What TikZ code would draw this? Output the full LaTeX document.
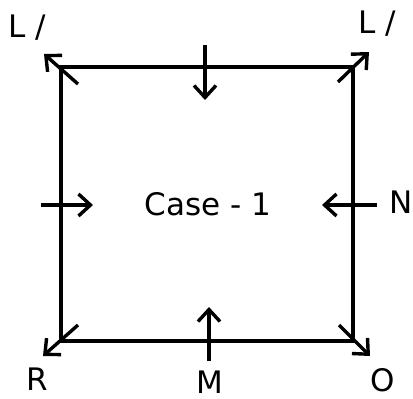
\documentclass[tikz,border=0pt]{standalone}
\usepackage{fontspec}
\setmainfont{DejaVu Sans}
\usetikzlibrary{arrows.meta}
\begin{document}
\begin{tikzpicture}[x=1pt,y=-1pt,
  edge/.style={line width=3.6pt, line cap=rect},
  arr/.style={line width=3.4pt,-{Straight Barb[length=12pt,width=22pt]}},
  lbl/.style={font=\fontsize{31}{31}\selectfont, text=black, inner sep=0pt, anchor=base}]
\useasboundingbox (0,0) rectangle (413,399);
% corners
\coordinate (tl) at (61,67);
\coordinate (tr) at (353,67);
\coordinate (bl) at (61,341);
\coordinate (br) at (353,341);
\draw[edge] (tl) -- (tr) -- (br) -- (bl) -- cycle;
% diagonal corner arrows
\coordinate (tls) at (78,84);  \coordinate (tle) at (44,54);
\coordinate (trs) at (338,82); \coordinate (tre) at (369,52);
\coordinate (bls) at (78,325); \coordinate (ble) at (43,356);
\coordinate (brs) at (339,325); \coordinate (bre) at (370,356);
\draw[arr] (tls) -- (tle);
\draw[arr] (trs) -- (tre);
\draw[arr] (bls) -- (ble);
\draw[arr] (brs) -- (bre);
% side arrows
\coordinate (ts) at (205,45);  \coordinate (te) at (205,100);
\coordinate (bs) at (209,361); \coordinate (be) at (209,307);
\coordinate (ls) at (41,205);  \coordinate (le) at (93,205);
\coordinate (rs) at (377,205); \coordinate (re) at (322,205);
\draw[arr] (ts) -- (te);
\draw[arr] (bs) -- (be);
\draw[arr] (ls) -- (le);
\draw[arr] (rs) -- (re);
% labels
\node[lbl] (case) at (208,215) {Case - 1};
\node[lbl] (ltl) at (27,37) {L /};
\node[lbl] (ltr) at (377,33) {L /};
\node[lbl] (r) at (37,390) {R};
\node[lbl] (m) at (210,393) {M};
\node[lbl] (o) at (383,391) {O};
\node[lbl] (n) at (401,213) {N};
\end{tikzpicture}
\end{document}
